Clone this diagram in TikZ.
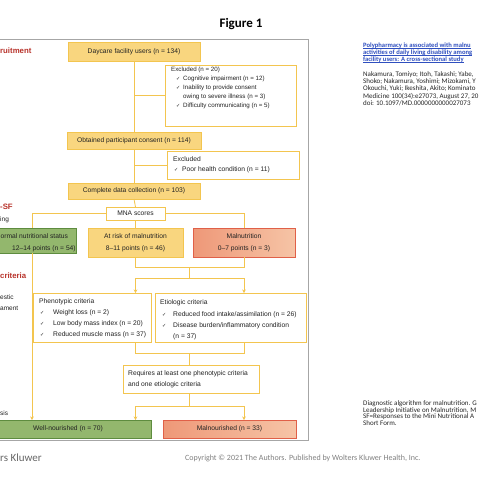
\documentclass[tikz,border=0pt]{standalone}
\usepackage{fontspec}
\setmainfont{Liberation Sans}
\newfontfamily\calfont{Carlito}
\newfontfamily\symfont{DejaVu Sans}
\usetikzlibrary{arrows.meta}
\definecolor{gold}{HTML}{F3C54F}
\definecolor{goldfill}{HTML}{F9D67F}
\definecolor{grnfill}{HTML}{93B76D}
\definecolor{grnline}{HTML}{5E8C3F}
\definecolor{salmL}{HTML}{EE9878}
\definecolor{salmR}{HTML}{F6C4A6}
\definecolor{redline}{HTML}{E06048}
\definecolor{redtext}{HTML}{B8322A}
\definecolor{framegray}{HTML}{A6A6A6}
\definecolor{linkblue}{HTML}{2F4FBF}
\definecolor{txtc}{HTML}{222222}
\newcommand\fm{\fontsize{6.7}{12.3}\selectfont}
\newcommand\fsm{\fontsize{6.2}{9.2}\selectfont}
\newcommand\fcal{\calfont\fontsize{7}{7}\selectfont}
\newcommand\ck[1]{\makebox[#1][l]{\symfont\fontsize{5}{5}\selectfont ✓}}
\newcommand\ul[1]{\rlap{\rule[-0.9pt]{\widthof{#1}}{0.35pt}}#1}
\usepackage{calc}
\tikzset{
  box/.style={draw, outer sep=0pt, inner sep=0pt, line width=0.8pt, text=txtc, font=\fm, align=center},
  gbox/.style={box, draw=gold, fill=goldfill},
  wbox/.style={box, draw=gold, fill=white},
  grbox/.style={box, draw=grnline, fill=grnfill},
  rbox/.style={box, draw=redline, left color=salmL, right color=salmR},
  conn/.style={draw=gold, line width=0.8pt},
  arr/.style={conn, -{Stealth[length=3.5pt,width=3.5pt]}},
  lt/.style={inner sep=0pt, anchor=base west, text=txtc, font=\fm},
  lts/.style={inner sep=0pt, anchor=base west, text=txtc, font=\fsm},
  redlab/.style={inner sep=0pt, anchor=base west, text=redtext, font=\fontsize{7.8}{8}\selectfont\bfseries},
  blklab/.style={inner sep=0pt, anchor=base west, text=txtc, font=\fontsize{6.5}{7}\selectfont},
  rp/.style={inner sep=0pt, anchor=base west, text=black!85, font=\fcal},
  rplink/.style={inner sep=0pt, anchor=base west, text=linkblue, font=\calfont\bfseries\fontsize{6.6}{7}\selectfont},
}
\begin{document}
\begin{tikzpicture}[x=1pt,y=-1pt]
\useasboundingbox[fill=white] (0,0) rectangle (480,480);
\clip (0,0) rectangle (480,480);

% title
\node[font=\calfont\bfseries\fontsize{13}{13}\selectfont, inner sep=0pt] (title) at (241,24) {Figure 1};

% frame
\draw[framegray, line width=0.9pt] (0,39) -- (308,39) -- (308,440) -- (0,440);

% boxes
\node[gbox, minimum width=132pt, minimum height=19pt] (day) at (134,51.5) {Daycare facility users (n = 134)};
\node[wbox, minimum width=131pt, minimum height=61pt] (exa) at (230.5,95.5) {};
\node[gbox, minimum width=134pt, minimum height=17pt] (con) at (134,140.5) {Obtained participant consent (n = 114)};
\node[wbox, minimum width=132pt, minimum height=28pt] (exb) at (233,165) {};
\node[gbox, minimum width=132pt, minimum height=16pt] (cdc) at (134,191) {Complete data collection (n = 103)};
\node[wbox, minimum width=59pt, minimum height=13pt] (mna) at (135.5,213.5) {MNA scores};
\node[grbox, minimum width=88pt, minimum height=25pt] (norm) at (32,240.5) {};
\node[gbox, minimum width=95pt, minimum height=29pt] (risk) at (135.5,242.5) {At risk of malnutrition\\8--11 points (n = 46)};
\node[rbox, minimum width=102pt, minimum height=29pt] (mal) at (244,242.5) {Malnutrition\\0--7 points (n = 3)};
\node[wbox, minimum width=118pt, minimum height=49pt] (phe) at (92,317.5) {};
\node[wbox, minimum width=151pt, minimum height=49pt] (eti) at (230.5,317.5) {};
\node[wbox, minimum width=136pt, minimum height=28pt] (req) at (191,379) {};
\node[grbox, minimum width=166pt, minimum height=18pt] (well) at (68,429) {Well-nourished (n = 70)};
\node[rbox, minimum width=133pt, minimum height=18pt] (maln) at (229.5,429) {Malnourished (n = 33)};

% box texts
\node[lts] (exa1) at (171,71.2) {Excluded (n = 20)};
\node[lts] (exa2) at (176,80.5) {\ck{7pt}Cognitive impairment (n = 12)};
\node[lts] (exa3) at (176,89.5) {\ck{7pt}Inability to provide consent};
\node[lts] (exa4) at (183,98.9) {owing to severe illness (n = 3)};
\node[lts] (exa5) at (176,107.9) {\ck{7pt}Difficulty communicating (n = 5)};
\node[lt] (exb1) at (173,161.3) {Excluded};
\node[lt] (exb2) at (174,171.3) {\ck{8pt}Poor health condition (n = 11)};
\node[lt] (norm1) at (0.4,238.9) {ormal nutritional status};
\node[lt] (norm2) at (12,250.6) {12--14 points (n = 54)};
\node[lt] (phe1) at (39,303.3) {Phenotypic criteria};
\node[lt] (phe2) at (40,314.3) {\ck{13pt}Weight loss (n = 2)};
\node[lt] (phe3) at (40,325.3) {\ck{13pt}Low body mass index (n = 20)};
\node[lt] (phe4) at (40,336.3) {\ck{13pt}Reduced muscle mass (n = 37)};
\node[lt] (eti1) at (160,304.3) {Etiologic criteria};
\node[lt] (eti2) at (162,316.3) {\ck{11pt}Reduced food intake/assimilation (n = 26)};
\node[lt] (eti3) at (162,327.3) {\ck{11pt}Disease burden/inflammatory condition};
\node[lt] (eti4) at (173,338.3) {(n = 37)};
\node[lt] (req1) at (128,375.3) {Requires at least one phenotypic criteria};
\node[lt] (req2) at (128,386.3) {and one etiologic criteria};

% connectors
\coordinate (ja) at (189,267);
\coordinate (jb) at (189,278);
\coordinate (jc) at (189,353);
\coordinate (jd) at (189,406);
\draw[conn] (day.south) -- (con.north);
\draw[conn] (day.south |- exa.west) -- (exa.west);
\draw[conn] (con.south) -- (cdc.north);
\draw[conn] (con.south |- exb.west) -- (exb.west);
\draw[conn] (cdc.south) -- (mna.north);
\draw[conn] (mna.west) -| (norm.north);
\draw[conn] (mna.east) -| (mal.north);
\draw[conn] (mna.south) -- (risk.north);
\draw[conn] (risk.south) -- (risk.south |- ja) -- (mal.south |- ja) -- (mal.south);
\draw[conn] (ja) -- (jb);
\draw[conn] (risk.south |- jb) -- (mal.south |- jb);
\draw[arr] (risk.south |- jb) -- (risk.south |- phe.north);
\draw[arr] (mal.south |- jb) -- (mal.south |- eti.north);
\draw[conn] (risk.south |- phe.south) -- (risk.south |- jc) -- (mal.south |- jc) -- (mal.south |- eti.south);
\draw[conn] (jc) -- (jc |- req.north);
\draw[conn] (jc |- req.south) -- (jd);
\draw[conn] (risk.south |- jd) -- (mal.south |- jd);
\draw[arr] (risk.south |- jd) -- (risk.south |- well.north);
\draw[arr] (mal.south |- jd) -- (mal.south |- maln.north);
\draw[arr] (norm.south) -- (norm.south |- well.north);

% left labels (cut at the edge)
\node[redlab] (lrec) at (0,53.7) {ruitment};
\node[redlab] (lmna) at (0,209.5) {-SF};
\node[blklab] (lscr) at (0,221.3) {ing};
\node[redlab] (lglim) at (0,278.5) {criteria};
\node[blklab] (ldia) at (0,299.3) {estic};
\node[blklab] (lass) at (0,310.3) {ament};
\node[blklab] (ldg) at (0,415.3) {sis};

% footer
\node[inner sep=0pt, anchor=base west, text=black!60, font=\calfont\fontsize{11}{11}\selectfont] (wk) at (0,461.5) {rs Kluwer};
\node[inner sep=0pt, anchor=base west, text=black!50, font=\calfont\fontsize{8}{8}\selectfont] (copy) at (185,460.5) {Copyright © 2021 The Authors. Published by Wolters Kluwer Health, Inc.};

% right panel
\node[rplink] (t1) at (363,47.3) {\ul{Polypharmacy is associated with malnu}};
\node[rplink] (t2) at (363,54.3) {\ul{activities of daily living disability among}};
\node[rplink] (t3) at (363,61.3) {\ul{facility users: A cross-sectional study}};
\node[rp] (a1) at (363,76.5) {Nakamura, Tomiyo; Itoh, Takashi; Yabe,};
\node[rp] (a2) at (363,83.5) {Shoko; Nakamura, Yoshimi; Mizokami, Y};
\node[rp] (a3) at (363,90.5) {Okouchi, Yuki; Ikeshita, Akito; Kominato};
\node[rp] (a4) at (363,98.5) {Medicine 100(34):e27073, August 27, 20};
\node[rp] (a5) at (363,105.5) {doi: 10.1097/MD.0000000000027073};
\node[rp] (c1) at (363,405.5) {Diagnostic algorithm for malnutrition. G};
\node[rp] (c2) at (363,412.2) {Leadership Initiative on Malnutrition, M};
\node[rp] (c3) at (363,418.9) {SF=Responses to the Mini Nutritional A};
\node[rp] (c4) at (363,425.6) {Short Form.};
\end{tikzpicture}
\end{document}
